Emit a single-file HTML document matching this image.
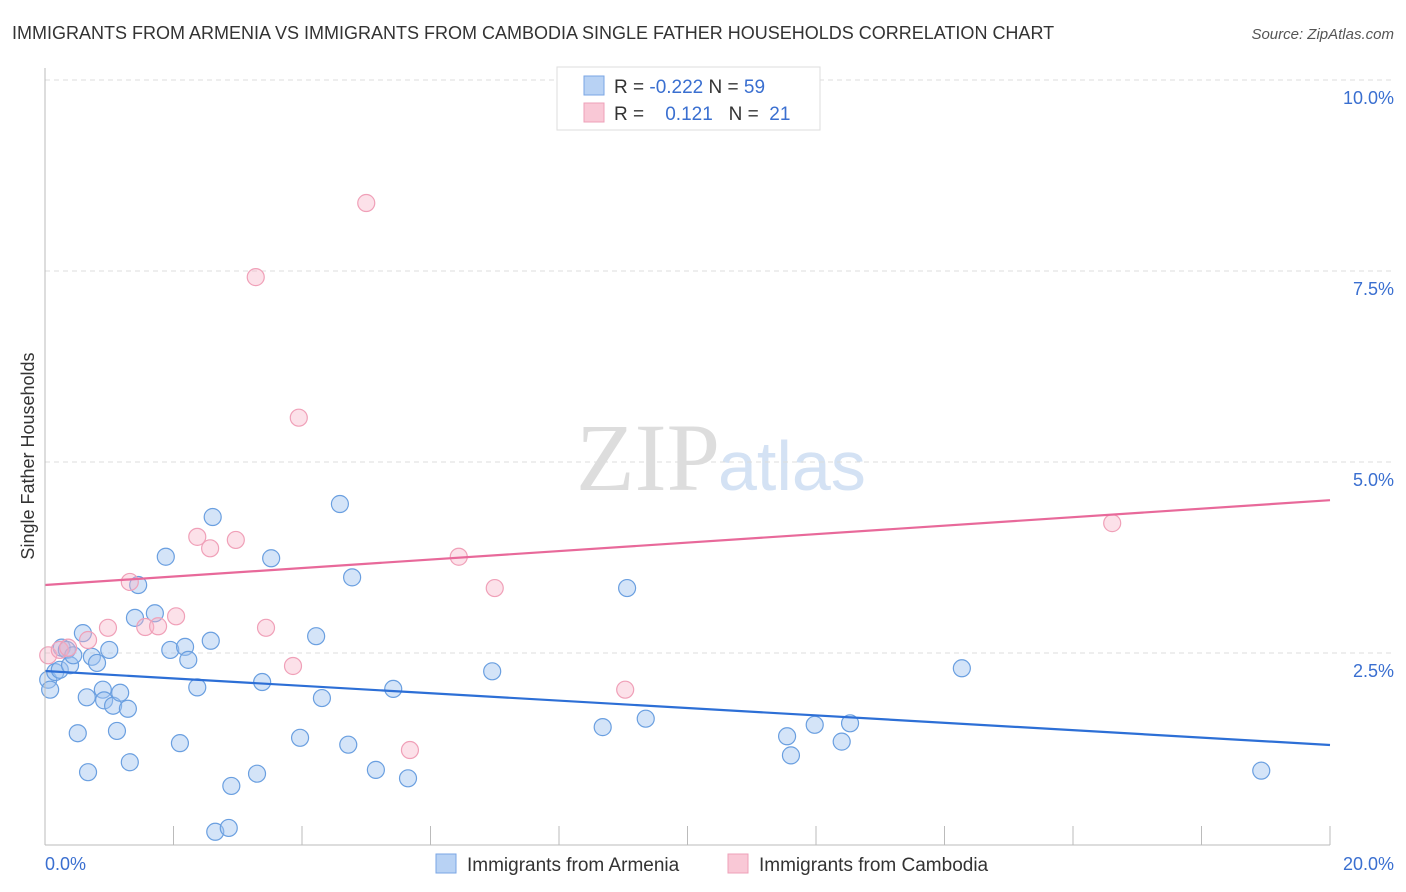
<!DOCTYPE html>
<html><head><meta charset="utf-8"><style>
body{margin:0;background:#fff;font-family:"Liberation Sans",sans-serif}
svg{display:block}
</style></head><body>
<svg id="c" width="1406" height="892" xmlns="http://www.w3.org/2000/svg">
<text x="12" y="39" font-size="18" fill="#333">IMMIGRANTS FROM ARMENIA VS IMMIGRANTS FROM CAMBODIA SINGLE FATHER HOUSEHOLDS CORRELATION CHART</text>
<text x="1394" y="39" font-size="15" fill="#555" font-style="italic" text-anchor="end">Source: ZipAtlas.com</text>
<text x="720" y="490" font-size="96" fill="#ddd" font-family="Liberation Serif,serif" text-anchor="end">ZIP</text>
<text x="718" y="490" font-size="70" fill="#d4e2f4">atlas</text>
<text x="34" y="456" font-size="18" fill="#333" text-anchor="middle" transform="rotate(-90 34 456)">Single Father Households</text>
<g id="grid"></g><g id="pts"></g><g id="lines"></g>
<line x1="45" y1="68" x2="45" y2="845" stroke="#bbb"/>
<line x1="45" y1="845" x2="1330" y2="845" stroke="#bbb"/>
<text x="45" y="870" font-size="18" fill="#3a6fd0">0.0%</text>
<text x="1394" y="870" font-size="18" fill="#3a6fd0" text-anchor="end">20.0%</text>
<g>
<rect x="557" y="67" width="263" height="63" fill="#fff" stroke="#ddd"/>
<rect x="584" y="76" width="20" height="19" fill="#b8d2f4" stroke="#7aa6e4"/>
<rect x="584" y="103" width="20" height="19" fill="#f9c8d6" stroke="#eea0b8"/>
<text x="614" y="93" font-size="19" fill="#333">R = <tspan fill="#3a6fd0">-0.222</tspan>   N = <tspan fill="#3a6fd0">59</tspan></text>
<text x="614" y="120" font-size="19" fill="#333" xml:space="preserve">R =    <tspan fill="#3a6fd0">0.121</tspan>   N =  <tspan fill="#3a6fd0">21</tspan></text>
</g>
<g>
<rect x="436" y="854" width="20" height="19" fill="#b8d2f4" stroke="#7aa6e4"/>
<text x="467" y="871" font-size="19" fill="#333">Immigrants from Armenia</text>
<rect x="728" y="854" width="20" height="19" fill="#f9c8d6" stroke="#eea0b8"/>
<text x="759" y="871" font-size="19" fill="#333">Immigrants from Cambodia</text>
</g>
</svg>
<script>
const yTicks=[2.5,5.0,7.5,10.0];
const xTicks=[0,2,4,6,8,10,12,14,16,18,20];
const armeniaX=[.05,.08,.16,.23,.26,.34,.39,.44,.59,.65,.67,.73,.81,.90,.92,1.00,1.06,1.12,1.17,1.29,1.32,1.40,1.45,1.71,1.88,1.95,2.10,2.18,2.23,2.37,2.58,2.61,2.65,2.86,2.90,3.30,3.38,3.52,3.97,4.22,4.31,4.59,4.72,4.78,5.15,5.42,5.65,6.96,8.68,9.06,9.35,11.55,11.61,11.98,12.40,12.53,14.27,18.93,.51];
const armeniaY=[2.15,2.02,2.25,2.28,2.57,2.54,2.34,2.47,2.76,1.92,.94,2.45,2.37,2.02,1.88,2.54,1.81,1.48,1.98,1.77,1.07,2.96,3.39,3.02,3.76,2.54,1.32,2.58,2.41,2.05,2.66,4.28,.16,.21,.76,.92,2.12,3.74,1.39,2.72,1.91,4.45,1.30,3.49,.97,2.03,.86,2.26,1.53,3.35,1.64,1.41,1.16,1.56,1.34,1.58,2.30,.96,1.45];
const cambodiaX=[.05,.23,.36,.67,.98,1.32,1.56,1.76,2.04,2.37,2.57,2.97,3.28,3.44,3.86,3.95,5.00,5.68,6.44,7.00,9.03,16.61];
const cambodiaY=[2.47,2.54,2.57,2.67,2.83,3.43,2.84,2.85,2.98,4.02,3.87,3.98,7.42,2.83,2.33,5.58,8.39,1.23,3.76,3.35,2.02,4.20];
const armeniaTrend=[2.264,1.296];
const cambodiaTrend=[3.39,4.50];
const NS="http://www.w3.org/2000/svg";
const X=v=>45+v/20*1285, Y=v=>844-v/2.5*191;
function mk(t,a,p){const e=document.createElementNS(NS,t);for(const k in a)e.setAttribute(k,a[k]);p.appendChild(e);return e;}
const grid=document.getElementById('grid');
yTicks.forEach(t=>{
 const l=mk('line',{x1:45,x2:1394,y1:Y(t),y2:Y(t),stroke:'#ddd','stroke-dasharray':'5,4'},grid);
 
 
 const tx=mk('text',{x:1394,y:Y(t)+24,'font-size':18,fill:'#3a6fd0','text-anchor':'end'},grid);
 tx.textContent=t.toFixed(1)+'%';
 
 
});
xTicks.forEach(t=>{
 const l=mk('line',{x1:X(t),x2:X(t),y1:826,y2:845,stroke:'#bbb'},grid);
 
 
});
const pts=document.getElementById('pts');
armeniaX.forEach((v,i)=>{
 const c=mk('circle',{cx:X(v),cy:Y(armeniaY[i]),r:8.5,fill:'rgba(160,196,240,0.45)',stroke:'#6a9fe0','stroke-width':1.2},pts);
 
 
});
cambodiaX.forEach((v,i)=>{
 const c=mk('circle',{cx:X(v),cy:Y(cambodiaY[i]),r:8.5,fill:'rgba(248,180,200,0.4)',stroke:'#f0a0b8','stroke-width':1.2},pts);
 
 
});
const lines=document.getElementById('lines');
const bl=mk('line',{x1:X(0),x2:X(20),y1:Y(armeniaTrend[0]),y2:Y(armeniaTrend[1]),stroke:'#2d6fd6','stroke-width':2.2},lines);


const pl=mk('line',{x1:X(0),x2:X(20),y1:Y(cambodiaTrend[0]),y2:Y(cambodiaTrend[1]),stroke:'#e8699a','stroke-width':2.2},lines);


</script>
</body></html>
